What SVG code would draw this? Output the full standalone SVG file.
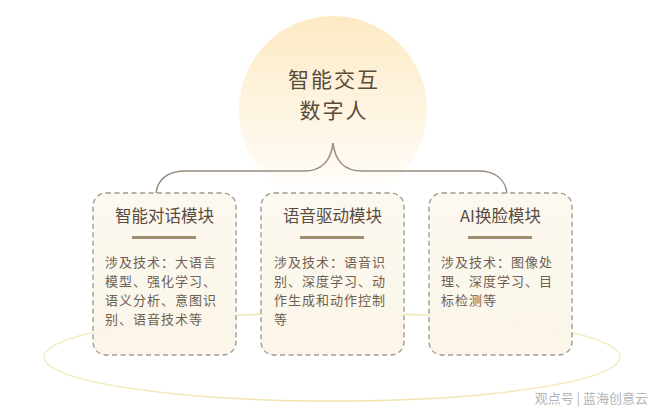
<svg xmlns="http://www.w3.org/2000/svg" width="660" height="413" viewBox="0 0 660 413">
  <defs>
    <linearGradient id="sun" x1="0" y1="0" x2="0" y2="1">
      <stop offset="0" stop-color="#fdeac4"/>
      <stop offset="0.4" stop-color="#fdf2db"/>
      <stop offset="0.8" stop-color="#fffaf2"/>
      <stop offset="1" stop-color="#ffffff" stop-opacity="0"/>
    </linearGradient>
    <linearGradient id="boxfill" x1="0" y1="0" x2="0" y2="1">
      <stop offset="0" stop-color="#fcf8ef"/>
      <stop offset="1" stop-color="#fbf5e6"/>
    </linearGradient>
    <linearGradient id="ring" x1="0" y1="0" x2="1" y2="0">
      <stop offset="0" stop-color="#f3ecca"/>
      <stop offset="0.5" stop-color="#f0e3ab"/>
      <stop offset="1" stop-color="#f4ecc8"/>
    </linearGradient>
  </defs>
  <style>
    .box { fill: url(#boxfill); fill-opacity: 0.92; stroke: #a39a90; stroke-width: 1.4; stroke-dasharray: 5 3.5; }
    .bar { fill: #a08a70; }
    .title { font-family: "Noto Sans CJK SC", "Liberation Sans", sans-serif; font-size: 16.5px; fill: #5b4b3d; text-anchor: middle; }
    .body { font-family: "Noto Sans CJK SC", "Liberation Sans", sans-serif; font-size: 13px; letter-spacing: 1px; fill: #6e6052; }
    .main { font-family: "Noto Sans CJK SC", "Liberation Sans", sans-serif; font-size: 21px; letter-spacing: 2px; fill: #5a4a3c; text-anchor: middle; }
    .conn { fill: none; stroke: #9a8c7e; stroke-width: 1.5; }
    .wm { font-family: "Noto Sans CJK SC", "Liberation Sans", sans-serif; font-size: 13px; fill: #b4b4b4; text-anchor: end; }
  </style>
  <rect width="660" height="413" fill="#ffffff"/>
  <ellipse cx="332" cy="357" rx="288" ry="44" fill="none" stroke="url(#ring)" stroke-width="1.5"/>
  <g id="root">
    <circle cx="333" cy="110" r="94" fill="url(#sun)"/>
    <text class="main"><tspan x="334" y="87">智能交互</tspan><tspan x="334" y="118">数字人</tspan></text>
  </g>
  <g id="connectors">
    <path class="conn" d="M156,193 C158,179 168,171 186,171 L304,171 C322,171 331,160 333,143"/>
    <path class="conn" d="M507,193 C505,179 495,171 478,171 L362,171 C344,171 335,160 333,143"/>
  </g>
  <g id="node1">
    <rect class="box" x="93" y="193" width="143" height="162" rx="13"/>
    <text class="title" x="164.5" y="222">智能对话模块</text>
    <rect class="bar" x="132" y="236" width="64" height="3"/>
    <text class="body"><tspan x="105" y="267">涉及技术：大语言</tspan><tspan x="105" y="286">模型、强化学习、</tspan><tspan x="105" y="305">语义分析、意图识</tspan><tspan x="105" y="324">别、语音技术等</tspan></text>
  </g>
  <g id="node2">
    <rect class="box" x="261" y="193" width="143" height="162" rx="13"/>
    <text class="title" x="332.5" y="222">语音驱动模块</text>
    <rect class="bar" x="300" y="236" width="64" height="3"/>
    <text class="body"><tspan x="274" y="267">涉及技术：语音识</tspan><tspan x="274" y="286">别、深度学习、动</tspan><tspan x="274" y="305">作生成和动作控制</tspan><tspan x="274" y="324">等</tspan></text>
  </g>
  <g id="node3">
    <rect class="box" x="429" y="193" width="143" height="162" rx="13"/>
    <text class="title" x="500.5" y="222">AI换脸模块</text>
    <rect class="bar" x="468" y="236" width="64" height="3"/>
    <text class="body"><tspan x="441" y="267">涉及技术：图像处</tspan><tspan x="441" y="286">理、深度学习、目</tspan><tspan x="441" y="305">标检测等</tspan></text>
  </g>
  <text class="wm" x="648" y="403">观点号 | 蓝海创意云</text>
</svg>
